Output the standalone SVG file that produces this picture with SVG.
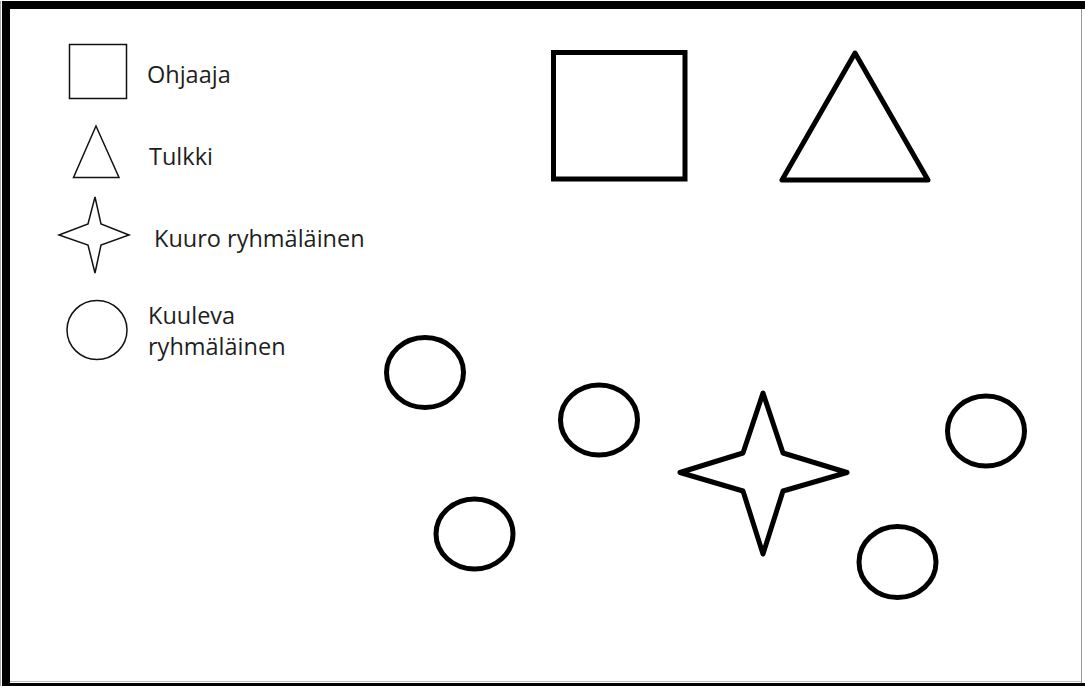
<svg xmlns="http://www.w3.org/2000/svg" width="1085" height="686" viewBox="0 0 1085 686">
<style>
.thin{fill:none;stroke:#111;stroke-width:1.5;stroke-linejoin:miter}
.thick{fill:none;stroke:#000;stroke-width:5;stroke-linejoin:round}
.lbl{font-family:"Open Sans","DejaVu Sans",sans-serif;font-size:23.5px;fill:#1e1e1e}
</style>
<rect x="0" y="0" width="1085" height="686" fill="#fff"/>
<g id="frame">
<rect x="2" y="1" width="1083" height="8" fill="#000"/>
<rect x="2" y="1" width="8" height="685" fill="#000"/>
<rect x="2" y="683" width="1083" height="3" fill="#000"/>
<line x1="1081.5" y1="9" x2="1081.5" y2="683" stroke="#999" stroke-width="1"/>
<line x1="10" y1="681.5" x2="1081" y2="681.5" stroke="#bbb" stroke-width="1"/>
<line x1="0.5" y1="1" x2="0.5" y2="686" stroke="#aaa" stroke-width="1"/>
</g>
<g id="legend-ohjaaja">
<rect class="thin" x="69.5" y="44.5" width="57" height="54"/>
<text class="lbl" x="147" y="83">Ohjaaja</text>
</g>
<g id="legend-tulkki">
<polygon class="thin" points="96,126 73.5,177.5 119,177.5"/>
<text class="lbl" x="149" y="165">Tulkki</text>
</g>
<g id="legend-kuuro">
<polygon class="thin" points="95,197 88,224 59,235 88,245 95,273 101,245 129,235 101,224"/>
<text class="lbl" x="154" y="247">Kuuro ryhmäläinen</text>
</g>
<g id="legend-kuuleva">
<ellipse class="thin" cx="97" cy="330" rx="30" ry="29.5"/>
<text class="lbl" x="148" y="324">Kuuleva</text>
<text class="lbl" x="148" y="355">ryhmäläinen</text>
</g>
<g id="ohjaaja">
<rect class="thick" x="553.5" y="52.5" width="131.5" height="126.5" style="stroke-linejoin:miter"/>
</g>
<g id="tulkki">
<polygon class="thick" points="855,53 782,180 928,180"/>
</g>
<g id="kuuro">
<polygon class="thick" points="763,393 743,453 680,472.5 743,491 763,554 783,491 847,472.5 783,453"/>
</g>
<g id="kuuleva-1"><ellipse class="thick" cx="425" cy="372.5" rx="38.5" ry="35"/></g>
<g id="kuuleva-2"><ellipse class="thick" cx="599" cy="420" rx="38.5" ry="35"/></g>
<g id="kuuleva-3"><ellipse class="thick" cx="474.5" cy="534" rx="38.5" ry="35"/></g>
<g id="kuuleva-4"><ellipse class="thick" cx="986" cy="431" rx="38.5" ry="35"/></g>
<g id="kuuleva-5"><ellipse class="thick" cx="897.5" cy="562" rx="38.5" ry="35.5"/></g>
<g id="connectors"/>
</svg>
